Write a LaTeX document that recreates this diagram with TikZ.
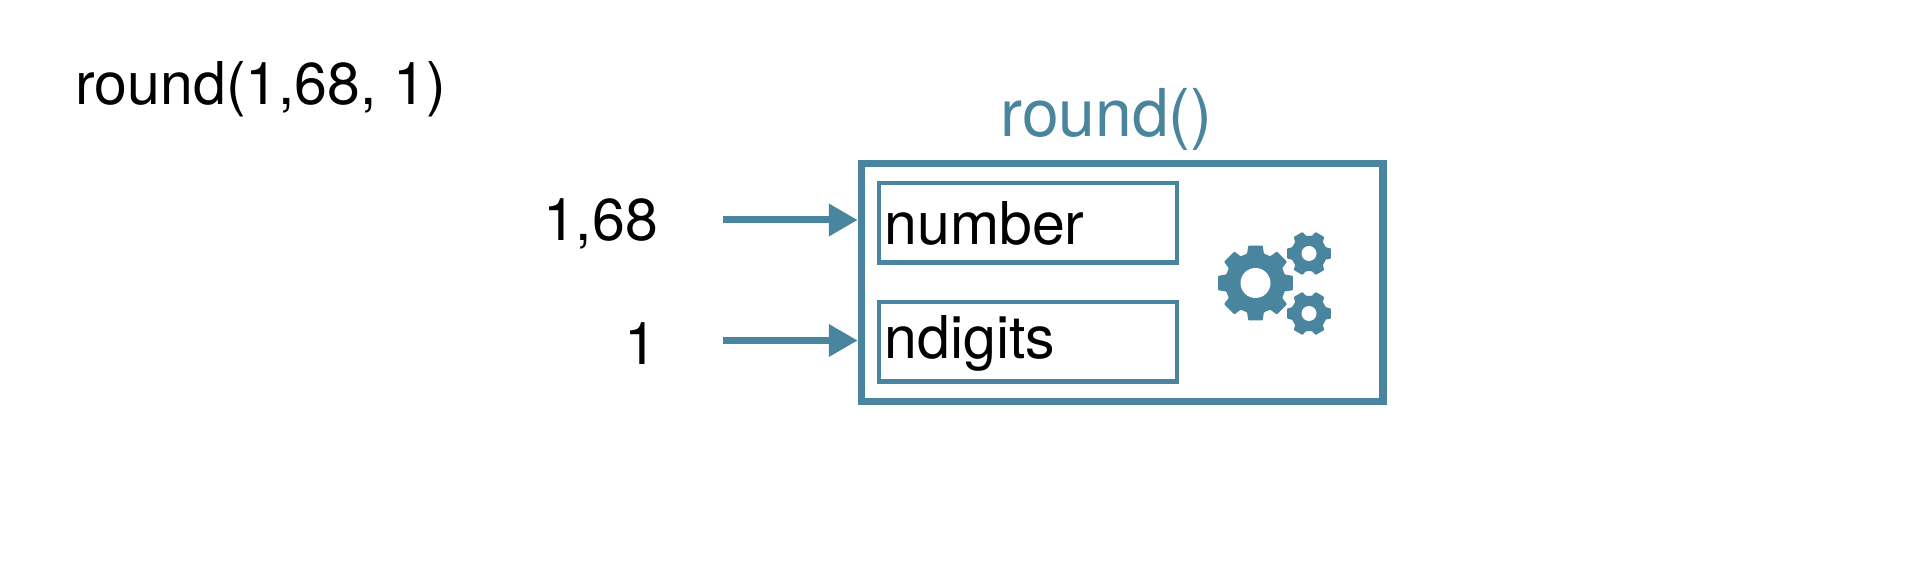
\documentclass[tikz,border=0pt]{standalone}
\usepackage{fontspec}
\setmainfont{TeX Gyre Heros}
\usetikzlibrary{arrows.meta}
\definecolor{teal1}{HTML}{4A85A0}
\tikzset{
  x=1pt,y=1pt,
  txt/.style={inner sep=0pt,outer sep=0pt,anchor=base west,text=black,font=\fontsize{59}{61}\selectfont},
  outerbox/.style={draw=teal1,line width=7.5pt,minimum width=521.5pt,minimum height=238pt,inner sep=0pt},
  innerbox/.style={draw=teal1,line width=4.5pt,minimum width=298pt,minimum height=79.5pt,inner sep=0pt},
  inarrow/.style={draw=teal1,line width=7pt,-{Triangle[length=29pt,width=31pt,fill=teal1]}},
}
% centre x, centre y (image coords), teeth, outer R, root R, hole R, tip half angle, base half angle
\newcommand{\cog}[8]{%
  \begin{scope}[shift={(#1,560-#2)}]
    \pgfmathsetmacro{\cogstep}{360/#3}
    \fill[teal1,rounded corners=0.8pt]
      (-#8:#5)
      \foreach \k in {1,...,#3}{
        -- ({(\k-1)*\cogstep-#8}:#5)
        -- ({(\k-1)*\cogstep-#7}:#4)
        -- ({(\k-1)*\cogstep+#7}:#4)
        -- ({(\k-1)*\cogstep+#8}:#5)
      } -- cycle;
    \fill[white] (0,0) circle (#6);
  \end{scope}%
}
\begin{document}
\begin{tikzpicture}
\useasboundingbox (0,0) rectangle (1920,560);
\fill[white] (0,0) rectangle (1920,560);
\node[txt] (call) at (75.5,560-105) {round(1,68, 1)};
\node[txt,text=teal1] (title) at (1000.5,560-137) {\fontsize{66}{68}\selectfont round()};
\node[txt] (val1) at (543,560-241) {1,68};
\node[txt] (val2) at (624,560-365) {1};
\node[outerbox] (fn) at (1122.25,560-282.5) {};
\node[innerbox] (number) at (1028,560-223) {};
\node[innerbox] (ndigits) at (1028,560-342) {};
\node[txt] (numbertxt) at (884.5,560-245) {number};
\node[txt] (ndigitstxt) at (884.5,560-359) {ndigits};
\coordinate (a1) at (723,560-220);
\coordinate (a2) at (723,560-340.5);
\draw[inarrow] (a1) -- (a1 -| fn.west);
\draw[inarrow] (a2) -- (a2 -| fn.west);
\cog{1255.5}{283}{8}{38}{30.5}{15}{11}{16}
\cog{1309}{253.5}{6}{22.5}{18}{7.5}{13}{20}
\cog{1309}{313.5}{6}{22.5}{18}{7.5}{13}{20}
\end{tikzpicture}
\end{document}
